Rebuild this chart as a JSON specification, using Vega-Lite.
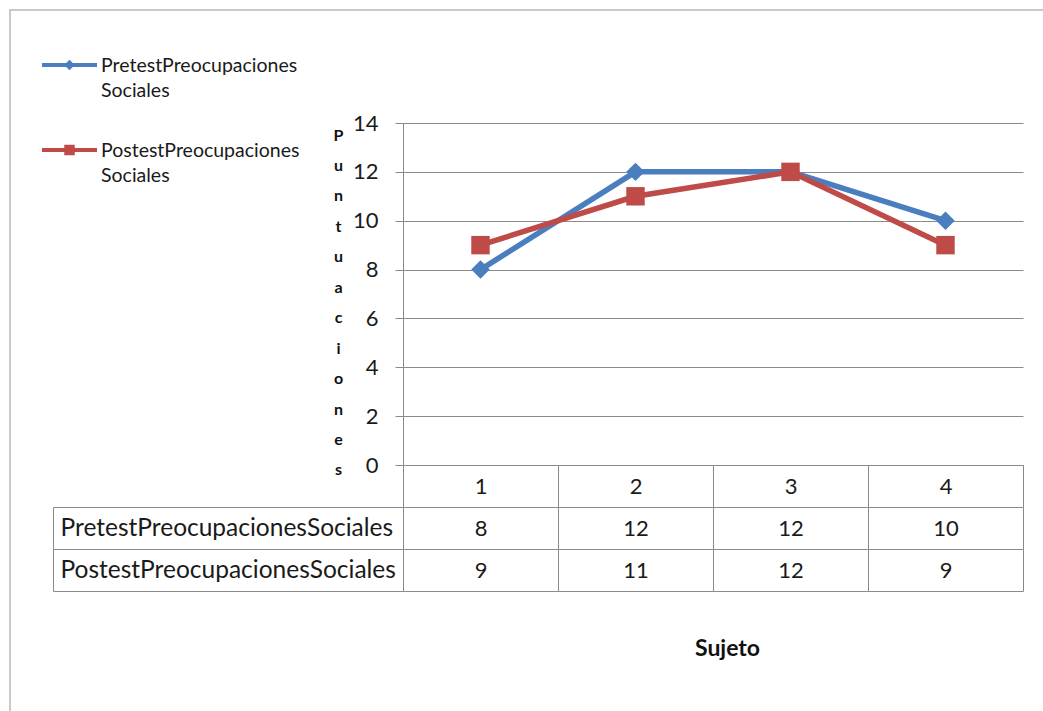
{
  "$schema": "https://vega.github.io/schema/vega-lite/v6.json",
  "width": 620,
  "height": 342,
  "autosize": {"type": "none"},
  "padding": {"left": 403, "top": 123, "right": 20, "bottom": 246},
  "background": "white",
  "config": {"font": "Lato", "view": {"stroke": null}},
  "datasets": {
    "scores": [
      {"sujeto": "1", "serie": "PretestPreocupacionesSociales", "valor": 8},
      {"sujeto": "2", "serie": "PretestPreocupacionesSociales", "valor": 12},
      {"sujeto": "3", "serie": "PretestPreocupacionesSociales", "valor": 12},
      {"sujeto": "4", "serie": "PretestPreocupacionesSociales", "valor": 10},
      {"sujeto": "1", "serie": "PostestPreocupacionesSociales", "valor": 9},
      {"sujeto": "2", "serie": "PostestPreocupacionesSociales", "valor": 11},
      {"sujeto": "3", "serie": "PostestPreocupacionesSociales", "valor": 12},
      {"sujeto": "4", "serie": "PostestPreocupacionesSociales", "valor": 9}
    ],
    "series": [
      {"serie": "PretestPreocupacionesSociales", "etiqueta": "PretestPreocupaciones\nSociales"},
      {"serie": "PostestPreocupacionesSociales", "etiqueta": "PostestPreocupaciones\nSociales"}
    ],
    "frame": [{"parte": "marco"}]
  },
  "layer": [
    {
      "data": {"name": "frame"},
      "mark": {"type": "rect", "fill": "transparent", "stroke": "#b8b8b8", "strokeWidth": 1.5},
      "encoding": {
        "x": {"datum": 0, "type": "quantitative", "scale": {"domain": [0, 1], "range": [-393, 660], "nice": false, "zero": false}, "axis": null},
        "x2": {"datum": 1},
        "y": {"datum": 0, "type": "quantitative", "scale": {"domain": [0, 1], "range": [-113, 620], "nice": false, "zero": false}, "axis": null},
        "y2": {"datum": 1}
      }
    },
    {
      "data": {"name": "scores"},
      "encoding": {
        "x": {
          "field": "sujeto", "type": "ordinal",
          "scale": {"type": "point", "padding": 0.5, "domain": ["1", "2", "3", "4"]},
          "axis": {
            "title": "Sujeto", "labels": false, "ticks": false, "domain": false, "grid": false,
            "titleFontSize": 23, "titleFontWeight": "bold", "titleColor": "#111111",
            "titleX": 324, "titleY": 183, "titleBaseline": "middle", "titleAlign": "center"
          }
        },
        "y": {
          "field": "valor", "type": "quantitative",
          "scale": {"domain": [0, 14], "nice": false},
          "axis": {
            "values": [0, 2, 4, 6, 8, 10, 12, 14],
            "grid": true, "gridColor": "#8a8a8a", "gridWidth": 1,
            "domainColor": "#8a8a8a", "tickColor": "#8a8a8a", "tickSize": 8,
            "labelPadding": 17, "labelFontSize": 22, "labelColor": "#1a1a1a",
            "title": ["P", "u", "n", "t", "u", "a", "c", "i", "o", "n", "e", "s"],
            "titleAngle": 0, "titleFontSize": 16, "titleFontWeight": "bold",
            "titleLineHeight": 30.45, "titleX": -65, "titleY": 17,
            "titleAlign": "center", "titleBaseline": "alphabetic", "titleColor": "#111111"
          }
        },
        "color": {
          "field": "serie", "type": "nominal",
          "scale": {"domain": ["PretestPreocupacionesSociales", "PostestPreocupacionesSociales"], "range": ["#4a7ebf", "#be4b48"]},
          "legend": null
        }
      },
      "layer": [
        {"mark": {"type": "line", "strokeWidth": 5.5}},
        {
          "mark": {"type": "point", "filled": true, "opacity": 1, "size": 340},
          "encoding": {
            "shape": {
              "field": "serie", "type": "nominal",
              "scale": {"domain": ["PretestPreocupacionesSociales", "PostestPreocupacionesSociales"], "range": ["diamond", "square"]},
              "legend": null
            }
          }
        }
      ]
    },
    {
      "data": {"name": "scores"},
      "encoding": {
        "x": {
          "field": "sujeto", "type": "nominal",
          "scale": {"type": "band", "domain": ["1", "2", "3", "4"], "paddingInner": 0, "paddingOuter": 0, "range": [0.5, 620.5]},
          "axis": null
        }
      },
      "layer": [
        {
          "mark": {"type": "rect", "fill": "white", "stroke": "#8a8a8a", "strokeWidth": 1},
          "encoding": {
            "y": {
              "field": "serie", "type": "nominal",
              "scale": {"type": "band", "domain": ["Sujeto", "PretestPreocupacionesSociales", "PostestPreocupacionesSociales"], "range": [342.5, 468.5], "paddingInner": 0, "paddingOuter": 0},
              "axis": null
            }
          }
        },
        {
          "transform": [{"filter": "datum.serie == 'PretestPreocupacionesSociales'"}],
          "mark": {"type": "rect", "fill": "white", "stroke": "#8a8a8a", "strokeWidth": 1},
          "encoding": {"y": {"datum": "Sujeto", "type": "nominal"}}
        },
        {
          "mark": {"type": "text", "fontSize": 22, "color": "#1a1a1a", "baseline": "middle"},
          "encoding": {
            "y": {"field": "serie", "type": "nominal"},
            "text": {"field": "valor", "type": "quantitative"}
          }
        },
        {
          "transform": [{"filter": "datum.serie == 'PretestPreocupacionesSociales'"}],
          "mark": {"type": "text", "fontSize": 22, "color": "#1a1a1a", "baseline": "middle"},
          "encoding": {
            "y": {"datum": "Sujeto", "type": "nominal"},
            "text": {"field": "sujeto", "type": "nominal"}
          }
        }
      ]
    },
    {
      "data": {"name": "series"},
      "encoding": {
        "y": {
          "field": "serie", "type": "nominal",
          "scale": {"type": "band", "domain": ["Sujeto", "PretestPreocupacionesSociales", "PostestPreocupacionesSociales"], "range": [342.5, 468.5], "paddingInner": 0, "paddingOuter": 0},
          "axis": null
        }
      },
      "layer": [
        {
          "mark": {"type": "rect", "fill": "white", "stroke": "#8a8a8a", "strokeWidth": 1},
          "encoding": {
            "x": {"datum": 0, "type": "quantitative", "scale": {"domain": [0, 1], "range": [-349.5, 0.5], "nice": false, "zero": false}, "axis": null},
            "x2": {"datum": 1}
          }
        },
        {
          "mark": {"type": "text", "align": "left", "dx": 7, "fontSize": 24.5, "color": "#1a1a1a", "baseline": "middle"},
          "encoding": {
            "x": {"datum": 0, "type": "quantitative"},
            "text": {"field": "serie", "type": "nominal"}
          }
        }
      ]
    },
    {
      "data": {"name": "series"},
      "encoding": {
        "y": {
          "field": "serie", "type": "nominal",
          "scale": {"type": "point", "domain": ["PretestPreocupacionesSociales", "PostestPreocupacionesSociales"], "range": [-58, 27], "padding": 0},
          "axis": null
        }
      },
      "layer": [
        {
          "mark": {"type": "rule", "strokeWidth": 4},
          "encoding": {
            "x": {"datum": 0, "type": "quantitative", "scale": {"domain": [0, 1], "range": [-361, -306], "nice": false, "zero": false}, "axis": null},
            "x2": {"datum": 1},
            "color": {"field": "serie", "type": "nominal", "legend": null}
          }
        },
        {
          "mark": {"type": "point", "filled": true, "opacity": 1, "size": 110},
          "encoding": {
            "x": {"datum": 0.5, "type": "quantitative"},
            "color": {"field": "serie", "type": "nominal", "legend": null},
            "shape": {"field": "serie", "type": "nominal", "legend": null}
          }
        },
        {
          "mark": {"type": "text", "align": "left", "dx": 4, "dy": 7, "fontSize": 19.5, "lineBreak": "\n", "lineHeight": 25, "color": "#1a1a1a", "baseline": "alphabetic"},
          "encoding": {
            "x": {"datum": 1, "type": "quantitative"},
            "text": {"field": "etiqueta", "type": "nominal"}
          }
        }
      ]
    }
  ],
  "resolve": {"scale": {"x": "independent", "y": "independent"}}
}
